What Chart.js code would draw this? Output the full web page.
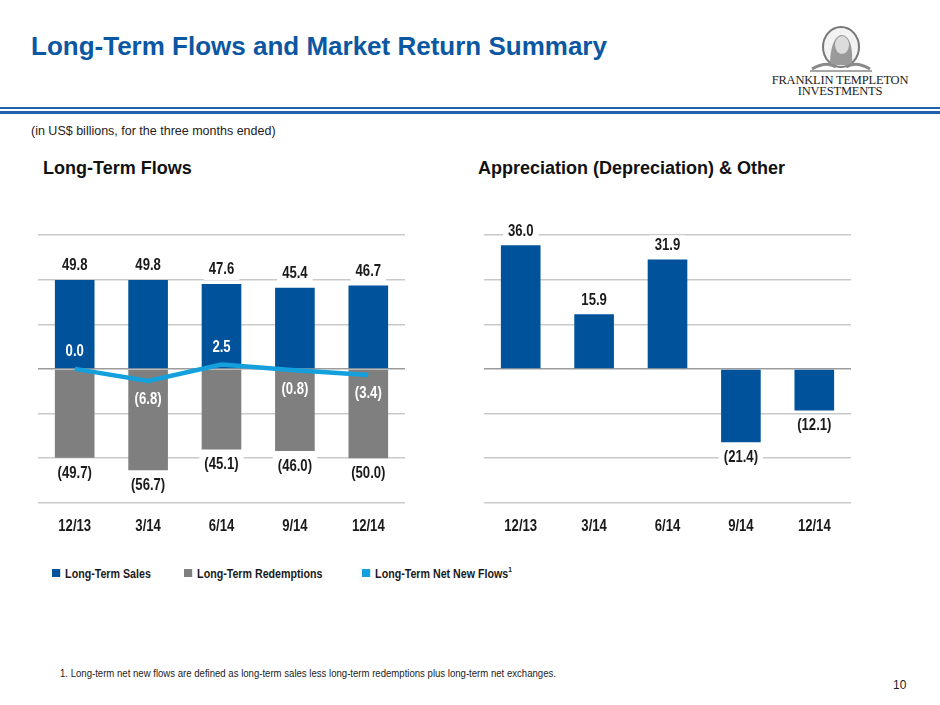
<!DOCTYPE html>
<html>
<head>
<meta charset="utf-8">
<script src="https://cdn.jsdelivr.net/npm/chart.js@4.4.1/dist/chart.umd.min.js"></script>
<style>
  body { margin: 0; background: #fff; }
  #page { position: relative; width: 940px; height: 705px; overflow: hidden; font-family: 'Liberation Sans', Arial, sans-serif; }
  .abs { position: absolute; white-space: nowrap; }
  .narrow { transform: scaleX(0.82); transform-origin: 0 0; }
  #title { left: 31px; top: 31px; font-size: 26px; font-weight: bold; color: #0b57a2; }
  .rule { position: absolute; left: 0; width: 940px; background: #2160aa; }
  #subtitle { left: 31px; top: 124px; font-size: 12.5px; color: #222; }
  .section { top: 158px; font-size: 18px; font-weight: bold; color: #111; }
  .chartBox { position: absolute; top: 220px; width: 367px; height: 330px; }
  .legendItem { top: 566px; font-size: 13px; font-weight: bold; color: #1a1a1a; }
  .legendItem i { display: inline-block; width: 10px; height: 8px; margin-right: 6px; vertical-align: 1px; }
  .legendItem sup { font-size: 8px; vertical-align: 6px; line-height: 0; }
  #footnote { left: 60px; top: 666px; font-size: 11.7px; color: #222; }
  #pageNum { left: 893px; top: 678px; font-size: 12px; color: #222; }
  .logoText { font-family: 'Liberation Serif', 'DejaVu Serif', serif; color: #222; font-size: 12.5px; text-align: center; width: 160px; left: 760px; letter-spacing: -0.2px; }
</style>
</head>
<body>
<div id="page">
  <div id="title" class="abs">Long-Term Flows and Market Return Summary</div>

  <svg class="abs" style="left:805px; top:26px" width="72" height="48" viewBox="0 0 72 48">
    <ellipse cx="36" cy="21" rx="18" ry="20" fill="#f3f3f3" stroke="#777" stroke-width="2"/>
    <path d="M25 39 C25 25 28 11 36 9 C45 9 48 21 47 39 Z" fill="#9a9a9a"/>
    <ellipse cx="37" cy="19" rx="7" ry="9" fill="#dcdcdc"/>
    <path d="M7 43 C17 37 25 37 31 41 M65 43 C55 37 47 37 41 41" stroke="#8a8a8a" stroke-width="3" fill="none"/>
    <line x1="5" y1="45" x2="67" y2="45" stroke="#888" stroke-width="1.5"/>
  </svg>
  <div class="abs logoText" style="top:73px">FRANKLIN TEMPLETON</div>
  <div class="abs logoText" style="top:84px">INVESTMENTS</div>

  <div class="rule" style="top:107px; height:2px"></div>
  <div class="rule" style="top:111px; height:3px"></div>

  <div id="subtitle" class="abs">(in US$ billions, for the three months ended)</div>
  <div class="abs section" style="left:43px">Long-Term Flows</div>
  <div class="abs section" style="left:478px">Appreciation (Depreciation) &amp; Other</div>

  <div class="chartBox" style="left:38px"><canvas id="flowsChart"></canvas></div>
  <div class="chartBox" style="left:484px"><canvas id="appreciationChart"></canvas></div>

  <div class="abs legendItem narrow" style="left:52px"><i style="background:#00539b"></i>Long-Term Sales</div>
  <div class="abs legendItem narrow" style="left:184px"><i style="background:#7f7f7f"></i>Long-Term Redemptions</div>
  <div class="abs legendItem narrow" style="left:362px"><i style="background:#13a0dc"></i>Long-Term Net New Flows<sup>1</sup></div>

  <div id="footnote" class="abs narrow">1. Long-term net new flows are defined as long-term sales less long-term redemptions plus long-term net exchanges.</div>
  <div id="pageNum" class="abs">10</div>
</div>

<script>
// quarters (three months ended)
const quarters = ['12/13', '3/14', '6/14', '9/14', '12/14'];

// Long-Term Flows, US$ billions
const longTermSales = [49.8, 49.8, 47.6, 45.4, 46.7];
const longTermRedemptions = [-49.7, -56.7, -45.1, -46.0, -50.0];
const longTermNetNewFlows = [0.0, -6.8, 2.5, -0.8, -3.4];

// Appreciation (Depreciation) & Other, US$ billions
const appreciationOther = [36.0, 15.9, 31.9, -21.4, -12.1];

// value axis gridlines (no tick labels shown)
const flowsAxis = [-75, 75, 25];        // min, max, step
const appreciationAxis = [-39, 39, 13]; // min, max, step

const SALES_BLUE = '#00539b';
const REDEMPTION_GREY = '#7f7f7f';
const NET_FLOW_BLUE = '#13a0dc';
const LABEL_FONT = "bold 16px 'Liberation Sans', Arial, sans-serif";
const SQUEEZE = 0.82; // Arial Narrow look from Arial Bold
const TICK_PAD = 14;

// negative numbers are shown in brackets, like the slide
function fmt(v) {
    const s = Math.abs(v).toFixed(1);
    return v < 0 ? '(' + s + ')' : s;
}

function narrowText(ctx, text, x, y) {
    ctx.save();
    ctx.translate(x, y);
    ctx.scale(SQUEEZE, 1);
    ctx.fillText(text, 0, 0);
    ctx.restore();
}

// value labels: dark ones on white boxes at the bar ends,
// white ones next to the net new flows line
const valueLabels = {
    id: 'valueLabels',
    afterDatasetsDraw(chart) {
        const ctx = chart.ctx;
        ctx.save();
        ctx.font = LABEL_FONT;
        ctx.textAlign = 'center';
        ctx.textBaseline = 'middle';
        chart.data.datasets.forEach((ds, di) => {
            const meta = chart.getDatasetMeta(di);
            meta.data.forEach((el, i) => {
                const v = ds.data[i];
                const text = fmt(v);
                if (ds.type === 'line') {
                    const y = v >= 0 ? el.y - 17 : el.y + 19;
                    ctx.fillStyle = '#ffffff';
                    narrowText(ctx, text, el.x, y);
                    return;
                }
                const y = v >= 0 ? el.y - 14 : el.y + 15.5;
                const w = ctx.measureText(text).width * SQUEEZE;
                ctx.fillStyle = '#ffffff';
                ctx.fillRect(el.x - w / 2 - 5, y - 10, w + 10, 20);
                ctx.fillStyle = '#1a1a1a';
                narrowText(ctx, text, el.x, y);
            });
        });
        ctx.restore();
    },
    // category labels in the narrow face, at the positions the x scale gives
    afterDraw(chart) {
        const xs = chart.scales.x;
        const ctx = chart.ctx;
        ctx.save();
        ctx.font = LABEL_FONT;
        ctx.textAlign = 'center';
        ctx.textBaseline = 'middle';
        ctx.fillStyle = '#1a1a1a';
        xs.ticks.forEach((t, i) => {
            narrowText(ctx, chart.data.labels[i], xs.getPixelForTick(i), xs.top + TICK_PAD + 10);
        });
        ctx.restore();
    }
};

function valueScale(axis) {
    return {
        min: axis[0],
        max: axis[1],
        border: { display: false },
        ticks: { display: false, stepSize: axis[2] },
        grid: {
            drawTicks: false,
            lineWidth: 1.5,
            color: ctx => ctx.tick && ctx.tick.value === 0 ? '#9c9c9c' : '#c9c9c9'
        }
    };
}

function categoryScale() {
    return {
        stacked: true,
        border: { display: false },
        grid: { display: false, drawTicks: false },
        // kept for layout, painted by the plugin
        ticks: { padding: TICK_PAD, color: 'rgba(0,0,0,0)', font: { size: 16, weight: 'bold' } }
    };
}

function baseOptions(axis) {
    return {
        responsive: true,
        maintainAspectRatio: false,
        animation: false,
        layout: { padding: { top: 15, left: 0, right: 0, bottom: 0 } },
        scales: { x: categoryScale(), y: valueScale(axis) },
        plugins: { legend: { display: false }, tooltip: { enabled: false } }
    };
}

new Chart(document.getElementById('flowsChart'), {
    type: 'bar',
    data: {
        labels: quarters,
        datasets: [
            {
                type: 'line',
                label: 'Long-Term Net New Flows',
                data: longTermNetNewFlows,
                borderColor: NET_FLOW_BLUE,
                borderWidth: 4.5,
                pointRadius: 0,
                tension: 0,
                order: 0
            },
            {
                label: 'Long-Term Sales',
                data: longTermSales,
                backgroundColor: SALES_BLUE,
                categoryPercentage: 1,
                barPercentage: 0.54,
                order: 1
            },
            {
                label: 'Long-Term Redemptions',
                data: longTermRedemptions,
                backgroundColor: REDEMPTION_GREY,
                categoryPercentage: 1,
                barPercentage: 0.54,
                order: 1
            }
        ]
    },
    options: baseOptions(flowsAxis),
    plugins: [valueLabels]
});

new Chart(document.getElementById('appreciationChart'), {
    type: 'bar',
    data: {
        labels: quarters,
        datasets: [{
            label: 'Appreciation (Depreciation) & Other',
            data: appreciationOther,
            backgroundColor: SALES_BLUE,
            categoryPercentage: 1,
            barPercentage: 0.54
        }]
    },
    options: baseOptions(appreciationAxis),
    plugins: [valueLabels]
});
</script>
</body>
</html>
